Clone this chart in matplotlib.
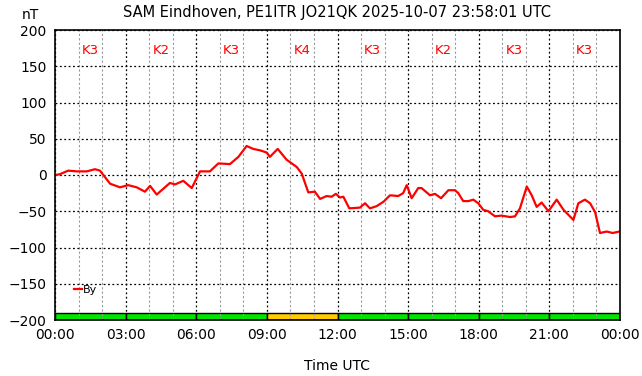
import matplotlib
matplotlib.use("Agg")
import matplotlib.pyplot as plt
from matplotlib.ticker import MultipleLocator

TITLE = "SAM Eindhoven, PE1ITR JO21QK 2025-10-07 23:58:01 UTC"

# By component, hours UTC vs nT
hours = [0.0, 0.2, 0.56, 0.92, 1.35, 1.70, 1.91, 2.34, 2.76, 3.11, 3.47, 3.82,
         4.04, 4.32, 4.88, 5.10, 5.45, 5.81, 6.16, 6.58, 6.94, 7.43, 7.79,
         8.14, 8.42, 8.71, 8.99, 9.13, 9.46, 9.84, 10.27, 10.48, 10.76, 11.04,
         11.26, 11.54, 11.75, 11.93, 12.10, 12.25, 12.50, 12.95, 13.17, 13.38,
         13.66, 13.95, 14.23, 14.58, 14.79, 14.94, 15.15, 15.43, 15.57, 15.93,
         16.14, 16.40, 16.71, 16.99, 17.13, 17.34, 17.56, 17.77, 17.98, 18.19,
         18.40, 18.69, 18.97, 19.33, 19.54, 19.75, 20.04, 20.25, 20.46, 20.67,
         20.96, 21.31, 21.60, 21.81, 22.02, 22.23, 22.51, 22.73, 22.94, 23.15,
         23.43, 23.69, 23.97]
by_nt = [0, 1, 6, 5, 5, 8, 6, -12, -17, -14, -17, -23,
         -15, -27, -11, -13, -8, -18, 5, 5, 16, 15, 25,
         40, 36, 34, 31, 25, 36, 21, 11, 2, -24, -23,
         -33, -29, -30, -26, -31, -30, -46, -45, -39, -46,
         -43, -37, -28, -29, -25, -14, -32, -18, -18, -28,
         -26, -32, -21, -21, -25, -36, -36, -34, -39, -48,
         -50, -57, -56, -58, -57, -46, -16, -28, -44, -38,
         -50, -34, -48, -55, -62, -39, -34, -39, -51, -80,
         -78, -80, -78]

# K index per 3 hour block
k_values = [3, 2, 3, 4, 3, 2, 3, 3]
k_colors = {2: "#00e600", 3: "#00e600", 4: "#ffcc00"}

fig = plt.figure(figsize=(6.42, 3.76), dpi=100)
ax = fig.add_axes([55 / 642, 56 / 376, 565 / 642, 290 / 376])

for i, k in enumerate(k_values):
    ax.bar(i * 3, 10, width=3, bottom=-200, align="edge",
           color=k_colors[k], edgecolor="black", linewidth=1, zorder=1)
    ax.text(i * 3 + 1.5, 172, f"K{k}", color="red", fontsize=9.5,
            ha="center", va="center", zorder=3)

ax.plot(hours, by_nt, color="red", linewidth=1.6, label="By", zorder=4)

ax.set_xlim(0, 24)
ax.set_ylim(-200, 200)
ax.xaxis.set_major_locator(MultipleLocator(3))
ax.xaxis.set_minor_locator(MultipleLocator(1))
ax.yaxis.set_major_locator(MultipleLocator(50))
ax.set_xticks(range(0, 25, 3))
ax.set_xticklabels([f"{h % 24:02d}:00" for h in range(0, 25, 3)])
ax.grid(which="minor", axis="x", color="#999999", linestyle=(0, (2, 2)),
        linewidth=0.8, zorder=2)
ax.grid(which="major", color="black", linestyle=(0, (1.5, 2)),
        linewidth=0.9, zorder=2)
ax.set_axisbelow(False)
ax.tick_params(which="both", length=0, labelsize=10, pad=6)
for s in ax.spines.values():
    s.set_linewidth(1.2)
    s.set_zorder(5)

ax.set_xlabel("Time UTC", fontsize=10, labelpad=12)
fig.text(30 / 642, 1 - 15 / 376, "nT", fontsize=10, ha="center", va="center")
fig.text(337 / 642, 1 - 12 / 376, TITLE, fontsize=10.5, ha="center", va="center")

ax.legend(loc="lower left", bbox_to_anchor=(0.02, 0.06), frameon=False,
          fontsize=8, handlelength=0.7, handletextpad=0.1, borderpad=0.2)

fig.savefig("out.png", dpi=100)
